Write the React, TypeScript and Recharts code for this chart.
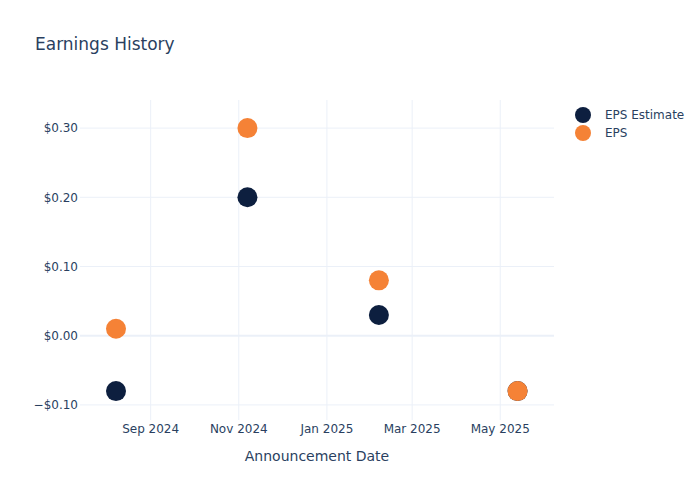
import React from 'react';
import { ScatterChart, Scatter, XAxis, YAxis, ReferenceLine } from 'recharts';

const announcementDates = ['2024-08-08', '2024-11-07', '2025-02-06', '2025-05-13'];
const epsEstimate = [-0.08, 0.2, 0.03, -0.08];
const epsActual = [0.01, 0.3, 0.08, -0.08];
const xTickDates = ['2024-09-01', '2024-11-01', '2025-01-01', '2025-03-01', '2025-05-01'];
const yTicks = [-0.1, 0, 0.1, 0.2, 0.3];
const xDomainDates = ['2024-07-14T02:00:00Z', '2025-06-07T05:00:00Z'];
const yDomain = [-0.1218, 0.3406];

const MONTHS = ['Jan', 'Feb', 'Mar', 'Apr', 'May', 'Jun', 'Jul', 'Aug', 'Sep', 'Oct', 'Nov', 'Dec'];
const toTs = (d: string) => new Date(d.length === 10 ? d + 'T00:00:00Z' : d).getTime();

const estimateData = announcementDates.map((d, i) => ({ x: toTs(d), y: epsEstimate[i] }));
const epsData = announcementDates.map((d, i) => ({ x: toTs(d), y: epsActual[i] }));
const xTicks = xTickDates.map(toTs);

const NAVY = '#0d1f3f';
const ORANGE = '#f58236';
const TEXT = '#2a3f5f';
const GRID = '#ebf0f8';
const FONT = '"DejaVu Sans", Verdana, sans-serif';

const fmtDate = (v: number) => {
  const d = new Date(v);
  return `${MONTHS[d.getUTCMonth()]} ${d.getUTCFullYear()}`;
};
const fmtMoney = (v: number) => (v < -1e-9 ? '\u2212' : '') + '$' + Math.abs(v).toFixed(2);

const Dot = (color: string) => (props: any) => (
  <circle cx={props.cx} cy={props.cy} r={10} fill={color} />
);

export default function App() {
  return (
    <div style={{ position: 'absolute', left: 0, top: 0, width: 700, height: 500, background: '#fff', fontFamily: FONT }}>
      <div style={{ position: 'absolute', left: 35, top: 34, fontSize: 17, color: TEXT, lineHeight: '20px', whiteSpace: 'nowrap' }}>
        Earnings History
      </div>
      <ScatterChart width={700} height={500} margin={{ top: 100, right: 146, bottom: 0, left: 0 }}>
        {xTicks.map((t) => (
          <ReferenceLine key={'vx' + t} x={t} stroke={GRID} strokeWidth={1} />
        ))}
        {yTicks.map((t) => (
          <ReferenceLine key={'hy' + t} y={t} stroke={GRID} strokeWidth={t === 0 ? 2 : 1} />
        ))}
        <XAxis
          type="number"
          dataKey="x"
          domain={xDomainDates.map(toTs)}
          allowDataOverflow
          ticks={xTicks}
          tickFormatter={fmtDate}
          axisLine={false}
          tickLine={false}
          tickSize={0}
          tickMargin={4}
          height={80}
          tick={{ fill: TEXT, fontSize: 12, fontFamily: FONT }}
          label={{ value: 'Announcement Date', position: 'insideBottom', offset: 39, fill: TEXT, fontSize: 14, fontFamily: FONT }}
        />
        <YAxis
          type="number"
          dataKey="y"
          domain={yDomain}
          allowDataOverflow
          ticks={yTicks}
          tickFormatter={fmtMoney}
          axisLine={false}
          tickLine={false}
          tickSize={0}
          tickMargin={2}
          width={80}
          tick={{ fill: TEXT, fontSize: 12, fontFamily: FONT }}
        />
        <Scatter name="EPS Estimate" data={estimateData} fill={NAVY} shape={Dot(NAVY)} isAnimationActive={false} />
        <Scatter name="EPS" data={epsData} fill={ORANGE} shape={Dot(ORANGE)} isAnimationActive={false} />
      </ScatterChart>
      <div style={{ position: 'absolute', left: 575, top: 105.5, fontSize: 12, color: TEXT }}>
        {[['EPS Estimate', NAVY], ['EPS', ORANGE]].map(([name, color]) => (
          <div key={name} style={{ display: 'flex', alignItems: 'center', height: 18.6 }}>
            <svg width={16} height={16} style={{ marginRight: 14 }}>
              <circle cx={8} cy={8} r={8} fill={color} />
            </svg>
            <span>{name}</span>
          </div>
        ))}
      </div>
    </div>
  );
}
